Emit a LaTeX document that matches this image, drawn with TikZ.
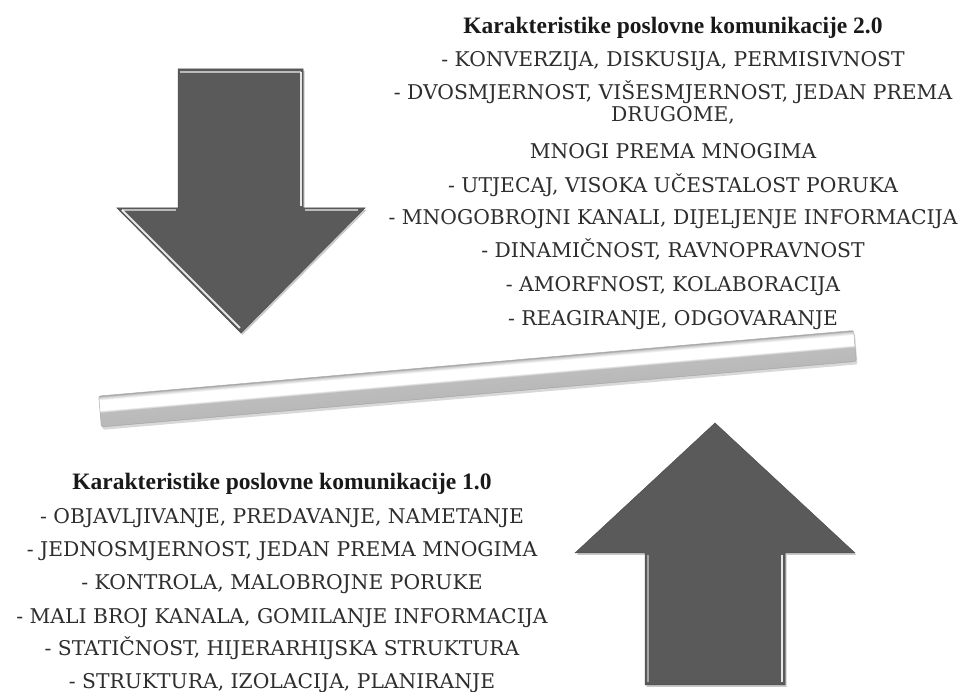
\documentclass[tikz,border=0pt]{standalone}
\usepackage{fontspec}
\newfontfamily\itemfont{DejaVu Serif}
\newfontfamily\titlefont{Liberation Serif}
\usetikzlibrary{shadows}
\definecolor{arrowgray}{HTML}{5A5A5A}
\definecolor{txtgray}{HTML}{2E2E2E}
\pgfdeclareverticalshading{barshade}{100bp}{color(0bp)=(gray!75); color(25bp)=(gray!75); color(27bp)=(gray!55); color(48bp)=(gray!52); color(52bp)=(white); color(68bp)=(white); color(73bp)=(gray!40); color(75bp)=(gray!70); color(100bp)=(gray!70)}
\tikzset{
  itemtext/.style={font=\itemfont\fontsize{20.3}{24}\selectfont, text=txtgray, inner sep=0pt, anchor=base},
  titletext/.style={font=\titlefont\bfseries\fontsize{23.5}{26}\selectfont, text=black!90, inner sep=0pt, anchor=base},
  bigarrow/.style={fill=arrowgray, draw=gray!60!black, line width=0.5pt, line join=miter,
    drop shadow={shadow xshift=1.5pt, shadow yshift=-2pt, opacity=0.35, fill=black!60}},
  hilite/.style={draw=white, line width=2pt, opacity=0.85},
  softlite/.style={draw=gray!35, line width=2pt, opacity=0.8},
  barstyle/.style={rounded corners=2pt, draw=gray!65, line width=0.5pt, shading=barshade,
    drop shadow={shadow xshift=1pt, shadow yshift=-3pt, opacity=0.3}}
}
\begin{document}
\begin{tikzpicture}[x=1pt,y=1pt]
\useasboundingbox (0,0) rectangle (963,692);
\fill[white] (0,0) rectangle (963,692);

% down arrow
\draw[bigarrow] (178,623) -- (303,623) -- (303,484) -- (365,484) -- (241,359) -- (117,484) -- (178,484) -- cycle;
\draw[softlite] (180,620) -- (301,620);
\draw[hilite] (301,620) -- (301,486);
\draw[softlite] (122,482) -- (176,482);
\draw[hilite] (122,482) -- (240,364);
\draw[softlite] (305,482) -- (358,482);

% up arrow
\draw[bigarrow] (715,269) -- (855,139) -- (785,139) -- (785,7) -- (645,7) -- (645,139) -- (575,139) -- cycle;
\draw[hilite] (782,137) -- (782,10);
\draw[draw=gray!45, line width=1.2pt, opacity=0.7] (648,137) -- (648,10);

% bar
\coordinate (barc) at (477.5,313.25);
\begin{scope}[transform canvas={rotate around={4.96:(barc)}}]
\path[barstyle] (98.6,297.75) rectangle (856.4,328.75);
\end{scope}

% top text block
\node[titletext] (t0) at (673,658) {Karakteristike poslovne komunikacije 2.0};
\node[itemtext] (t1) at (673,625) {- KONVERZIJA, DISKUSIJA, PERMISIVNOST};
\node[itemtext] (t2) at (673,592) {- DVOSMJERNOST, VIŠESMJERNOST, JEDAN PREMA};
\node[itemtext] (t3) at (673,570) {DRUGOME,};
\node[itemtext] (t4) at (673,533) {MNOGI PREMA MNOGIMA};
\node[itemtext] (t5) at (673,499) {- UTJECAJ, VISOKA UČESTALOST PORUKA};
\node[itemtext] (t6) at (673,467) {- MNOGOBROJNI KANALI, DIJELJENJE INFORMACIJA};
\node[itemtext] (t7) at (673,434) {- DINAMIČNOST, RAVNOPRAVNOST};
\node[itemtext] (t8) at (673,400) {- AMORFNOST, KOLABORACIJA};
\node[itemtext] (t9) at (673,366) {- REAGIRANJE, ODGOVARANJE};

% bottom text block
\node[titletext] (b0) at (282,202) {Karakteristike poslovne komunikacije 1.0};
\node[itemtext] (b1) at (282,168) {- OBJAVLJIVANJE, PREDAVANJE, NAMETANJE};
\node[itemtext] (b2) at (282,135) {- JEDNOSMJERNOST, JEDAN PREMA MNOGIMA};
\node[itemtext] (b3) at (282,102) {- KONTROLA, MALOBROJNE PORUKE};
\node[itemtext] (b4) at (282,68) {- MALI BROJ KANALA, GOMILANJE INFORMACIJA};
\node[itemtext] (b5) at (282,36) {- STATIČNOST, HIJERARHIJSKA STRUKTURA};
\node[itemtext] (b6) at (282,3) {- STRUKTURA, IZOLACIJA, PLANIRANJE};
\end{tikzpicture}
\end{document}
